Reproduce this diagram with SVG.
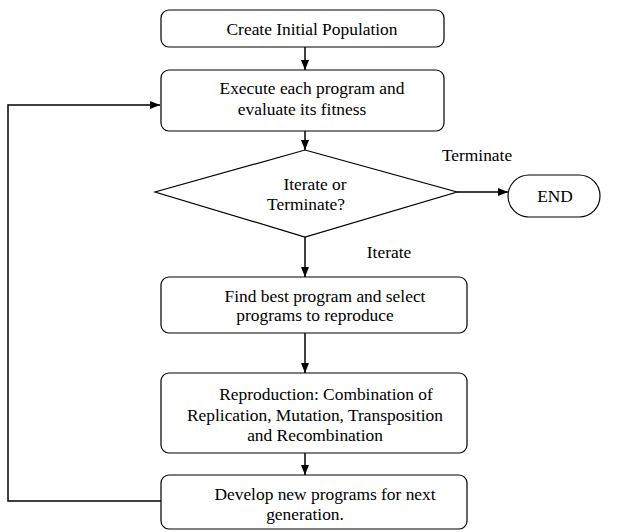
<svg xmlns="http://www.w3.org/2000/svg" width="623" height="532" viewBox="0 0 623 532">
<defs>
<marker id="ah" markerWidth="10" markerHeight="8" refX="10" refY="4" orient="auto" markerUnits="userSpaceOnUse">
<path d="M0,0 L10,4 L0,8 Z" fill="#000"/>
</marker>
<style>
.box{fill:#fff;stroke:#000;stroke-width:1.2}
text{font-family:'Liberation Serif','Times New Roman','DejaVu Serif',serif;font-size:17.4px;fill:#000;text-anchor:middle}
.c{fill:none;stroke:#000;stroke-width:1.5}
</style>
</defs>
<rect width="623" height="532" fill="#fff"/>
<g id="connectors">
<line class="c" x1="305" y1="47" x2="305" y2="70" marker-end="url(#ah)"/>
<line class="c" x1="305" y1="131" x2="305" y2="150" marker-end="url(#ah)"/>
<line class="c" x1="457" y1="192" x2="508" y2="192" marker-end="url(#ah)"/>
<line class="c" x1="305" y1="237" x2="305" y2="277" marker-end="url(#ah)"/>
<line class="c" x1="305" y1="333" x2="305" y2="373" marker-end="url(#ah)"/>
<line class="c" x1="305" y1="453" x2="305" y2="475" marker-end="url(#ah)"/>
<polyline class="c" points="161,501 8,501 8,105 160,105" marker-end="url(#ah)"/>
<text x="477" y="161">Terminate</text>
<text x="389" y="258">Iterate</text>
</g>
<g id="create">
<rect class="box" x="161" y="10" width="283" height="37" rx="8"/>
<text x="312" y="35">Create Initial Population</text>
</g>
<g id="execute">
<rect class="box" x="161" y="70" width="283" height="61" rx="8"/>
<text x="312" y="94">Execute each program and</text>
<text x="302" y="115">evaluate its fitness</text>
</g>
<g id="decision">
<polygon class="box" points="305,150 457,192 305,237 155,192"/>
<text x="315" y="190">Iterate or</text>
<text x="306" y="210">Terminate?</text>
</g>
<g id="end">
<rect class="box" x="508" y="175" width="92" height="42" rx="21"/>
<text x="555" y="202">END</text>
</g>
<g id="select">
<rect class="box" x="161" y="277" width="306" height="56" rx="8"/>
<text x="325" y="302">Find best program and select</text>
<text x="315" y="321">programs to reproduce</text>
</g>
<g id="reproduction">
<rect class="box" x="161" y="373" width="306" height="80" rx="8"/>
<text x="326" y="400">Reproduction: Combination of</text>
<text x="315" y="421">Replication, Mutation, Transposition</text>
<text x="315" y="441">and Recombination</text>
</g>
<g id="develop">
<rect class="box" x="161" y="475" width="306" height="54" rx="8"/>
<text x="325" y="500">Develop new programs for next</text>
<text x="305" y="520">generation.</text>
</g>
</svg>
